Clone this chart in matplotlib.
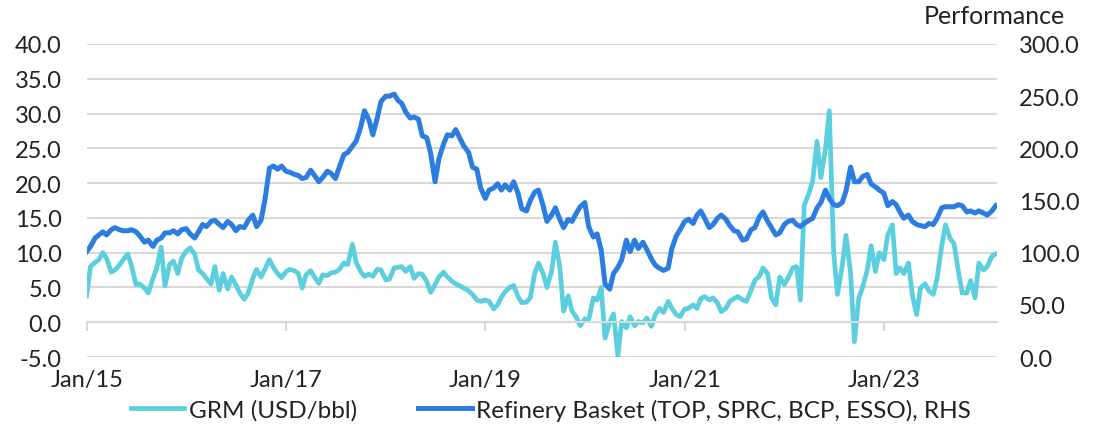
import pandas as pd
import matplotlib
matplotlib.use("Agg")
import matplotlib.pyplot as plt

plt.rcParams["font.family"] = ["Lato", "DejaVu Sans"]

# semi-monthly readings, Jan 2015 .. Feb 2024
grm = [
    3.8, 8.0, 8.6, 9.0, 10.0, 9.2, 7.2, 7.5, 8.2, 9.0, 9.8, 8.0, 5.4, 5.5, 4.9, 4.2, 6.3, 7.8, 10.8, 5.2, 8.3, 8.8, 7.0, 9.2,
    10.2, 10.7, 9.8, 7.5, 7.0, 6.3, 5.5, 8.0, 4.6, 7.0, 4.8, 6.5, 5.4, 4.2, 3.3, 4.2, 6.3, 7.6, 6.5, 7.6, 9.0, 7.9, 7.0, 6.4,
    7.3, 7.6, 7.4, 7.0, 4.9, 6.8, 7.4, 6.5, 5.6, 6.8, 6.7, 7.1, 7.2, 7.6, 8.5, 8.3, 11.2, 8.6, 7.3, 6.6, 6.9, 6.6, 7.6, 7.5,
    6.1, 6.2, 7.8, 7.9, 8.0, 7.3, 8.0, 6.3, 7.0, 6.9, 5.8, 4.3, 5.4, 6.5, 7.2, 6.5, 5.9, 5.5, 5.2, 4.9, 4.5, 4.0, 3.2, 3.0,
    3.2, 3.0, 1.9, 2.5, 3.6, 4.4, 5.0, 5.3, 3.7, 2.8, 2.9, 3.5, 7.0, 8.5, 7.0, 5.0, 7.3, 11.5, 8.0, 1.6, 3.8, 1.6, 0.7, -0.5,
    0.5, 0.3, 3.5, 3.2, 5.0, -2.3, 0.0, 1.2, -4.8, 0.1, -0.8, 0.8, -0.5, 0.1, -0.1, 0.6, -0.6, 1.1, 2.0, 1.4, 3.0, 2.0, 1.1, 0.8,
    1.9, 2.0, 2.5, 2.0, 3.4, 3.7, 3.2, 3.5, 2.8, 1.5, 2.0, 3.0, 3.4, 3.7, 3.2, 3.0, 4.6, 6.0, 6.6, 7.8, 7.0, 3.5, 2.5, 6.5,
    5.4, 6.4, 7.8, 8.0, 3.2, 16.8, 18.5, 20.3, 26.0, 20.8, 25.0, 30.4, 10.0, 4.0, 8.0, 12.5, 7.0, -2.8, 3.5, 5.0, 7.5, 11.0, 7.3, 10.0,
    9.0, 12.5, 14.0, 7.0, 7.8, 7.0, 8.5, 4.0, 1.1, 4.9, 5.5, 4.5, 4.0, 6.3, 11.0, 14.0, 12.0, 11.3, 7.3, 4.2, 4.2, 6.0, 3.5, 8.5,
    7.5, 8.0, 9.5, 9.8,
]

basket = [
    101, 106, 114, 117, 120, 117, 122, 124, 122, 121, 121, 122, 120, 116, 110, 112, 106, 112, 114, 119, 119, 121, 118, 122,
    123, 118, 114, 120, 127, 125, 130, 131, 127, 124, 130, 127, 121, 125, 124, 131, 136, 125, 131, 150, 181, 183, 180, 183,
    178, 177, 175, 174, 171, 172, 179, 174, 168, 172, 178, 176, 171, 182, 194, 196, 202, 207, 220, 236, 227, 213, 229, 245,
    250, 250, 252, 246, 243, 235, 229, 230, 228, 212, 210, 195, 168, 190, 204, 213, 212, 218, 209, 202, 196, 182, 180, 162,
    152, 160, 162, 166, 160, 165, 160, 168, 157, 142, 140, 150, 158, 160, 145, 130, 136, 143, 132, 124, 132, 130, 138, 144,
    148, 125, 115, 118, 102, 70, 65, 80, 86, 93, 112, 101, 112, 104, 110, 103, 94, 88, 85, 83, 85, 104, 116, 122,
    130, 132, 128, 136, 140, 133, 124, 127, 133, 136, 132, 126, 121, 120, 112, 113, 122, 124, 134, 139, 130, 124, 117, 119,
    127, 130, 131, 127, 125, 128, 131, 133, 143, 148, 160, 152, 146, 145, 148, 159, 182, 168, 168, 173, 175, 166, 163, 160,
    157, 145, 149, 146, 139, 133, 136, 130, 127, 126, 125, 128, 127, 133, 143, 144, 144, 144, 146, 145, 139, 140, 138, 140,
    138, 136, 140, 145,
]

dates = pd.date_range("2015-01-01", periods=len(grm), freq="SMS")
tick_dates = pd.to_datetime(["2015-01-01", "2017-01-01", "2019-01-01", "2021-01-01", "2023-01-01"])
tick_labels = ["Jan/15", "Jan/17", "Jan/19", "Jan/21", "Jan/23"]

cyan = "#5ccfdf"
blue = "#2b7de1"
grid = "#d9d9d9"
txt = "#222222"

fig = plt.figure(figsize=(11.11, 4.39), dpi=100)
ax = fig.add_axes([0.078, 0.1845, 0.819, 0.713])
ax2 = ax.twinx()

ax.set_ylim(-5, 40)
ax2.set_ylim(0, 300)
ax.set_xlim(pd.Timestamp("2015-01-01"), pd.Timestamp("2024-02-18"))
ax.set_yticks(range(-5, 41, 5))
ax2.set_yticks(range(0, 301, 50))
ax.yaxis.set_major_formatter(matplotlib.ticker.FormatStrFormatter("%.1f"))
ax2.yaxis.set_major_formatter(matplotlib.ticker.FormatStrFormatter("%.1f"))

ax.grid(axis="y", color=grid, lw=1.5)
ax.set_axisbelow(True)

l1, = ax.plot(dates, grm, color=cyan, lw=3.4, solid_joinstyle="round", label="GRM (USD/bbl)")
l2, = ax2.plot(dates, basket, color=blue, lw=3.6, solid_joinstyle="round",
               label="Refinery Basket (TOP, SPRC, BCP, ESSO), RHS")

for a in (ax, ax2):
    for s in a.spines.values():
        s.set_visible(False)
ax.spines["bottom"].set_visible(True)
ax.spines["bottom"].set_position(("data", 0))
ax.spines["bottom"].set_color(grid)
ax.spines["bottom"].set_linewidth(1.5)

ax.set_xticks(tick_dates)
ax.set_xticklabels(tick_labels)
ax.tick_params(axis="x", length=6.5, width=1.5, color=grid, pad=27, labelsize=17, labelcolor=txt)
ax.tick_params(axis="y", length=0, pad=18, labelsize=17, labelcolor=txt)
ax2.tick_params(axis="y", length=0, pad=16, labelsize=17, labelcolor=txt)

fig.text(0.9586, 0.963, "Performance", ha="right", va="center", fontsize=18, color=txt)

fig.legend(handles=[l1, l2], loc="center", bbox_to_anchor=(0.496, 0.065), ncol=2, frameon=False,
           fontsize=17.5, handlelength=2.2, handletextpad=0.2, columnspacing=2.5, labelcolor=txt)

fig.savefig("out.png", dpi=100)
